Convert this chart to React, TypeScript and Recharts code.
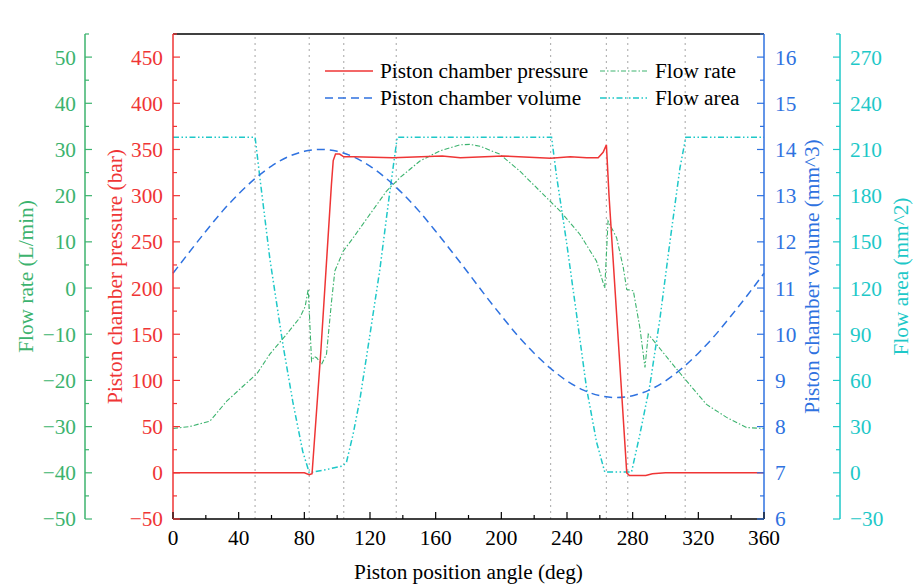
import {
  ComposedChart,
  Line,
  XAxis,
  YAxis,
  ReferenceLine,
  Legend,
} from "recharts";

const FONT = "'Liberation Serif', 'Times New Roman', serif";
const FS = 21.3;
const RED = "#ef3535";
const GREEN = "#3cb36e";
const BLUE = "#2f72e0";
const CYAN = "#1ec8c8";

// stage markers along the cycle
const markerDeg = [50, 83, 104, 136, 230, 264, 277, 312];
const markerName = ["a", "b", "c", "d", "e", "f", "g", "h"];

// piston chamber pressure (bar)
const pressureDeg = [0, 80, 83, 84.7, 90, 96.5, 97.6, 99, 101.5, 104, 110, 134, 164, 175, 201, 230, 242, 252, 259, 262, 264, 265.6, 276.4, 278, 288, 292, 300, 360];
const pressureBar = [0, 0, -2, -1, 130, 312, 338, 345, 345, 342, 342, 341, 343, 341, 343, 340.5, 342, 341, 341, 347, 355, 300, 0, -3, -3, -1, 0, 0];

// flow rate (L/min)
const flowDeg = [0, 10, 22.5, 32.7, 42.8, 51, 59, 69.2, 77.3, 80.5, 82.4, 84.4, 86, 87.5, 90.5, 93.5, 96.6, 98.6, 103.7, 109.8, 120, 130.1, 138.2, 150.4, 162.6, 174.8, 181, 187, 199, 211.3, 223.5, 235.7, 247.9, 258, 263, 265, 270.2, 274.3, 276.4, 280.4, 284.4, 287.5, 289.5, 294.6, 302.7, 312.8, 325, 337.2, 349.4, 360];
const flowRate = [-30.4, -30, -28.8, -24.5, -21.2, -18.6, -14.3, -10, -6.4, -4, -0.2, -15.8, -14.8, -15.1, -16.5, -14.3, -2.8, 3.7, 8, 10.9, 16, 21, 23.9, 27.5, 29.7, 31, 31.1, 30.7, 29, 25.3, 21, 16.7, 11.6, 5.8, 0, 14.5, 10.9, 4.4, -0.3, -0.6, -8.6, -17.2, -10, -12.2, -15.8, -20.1, -25.2, -28, -30.2, -30.4];

// piston chamber volume (mm^3)
const volumeDeg = [0, 10, 20, 30, 40, 50, 60, 70, 80, 90, 100, 110, 120, 130, 140, 150, 160, 170, 180, 190, 200, 210, 220, 230, 240, 250, 260, 270, 280, 290, 300, 310, 320, 330, 340, 350, 360];
const volume = [11.32, 11.78, 12.23, 12.66, 13.04, 13.37, 13.64, 13.84, 13.96, 14.0, 13.96, 13.84, 13.64, 13.37, 13.04, 12.66, 12.23, 11.78, 11.32, 10.85, 10.4, 9.97, 9.59, 9.26, 8.99, 8.79, 8.67, 8.63, 8.67, 8.79, 8.99, 9.26, 9.59, 9.97, 10.4, 10.85, 11.32];

// flow area (mm^2)
const areaDeg = [0, 50, 53, 59, 67, 73, 79, 83, 93, 103.5, 105.7, 109.7, 113.9, 120, 126, 132, 136.6, 230.6, 233.6, 239.7, 245.8, 251.9, 258, 263, 279.3, 284.4, 290.5, 296.6, 302.7, 308.8, 312.4, 360];
const flowArea = [218, 218, 191, 139, 83, 46, 14, 0, 2, 4.5, 7, 25, 48, 90, 132, 182, 218, 218, 193, 150, 103, 55, 20, 0.5, 0.5, 25, 57, 100, 150, 198, 218, 218];

const pressureTicks = Array.from({ length: 22 }, (_, i) => -50 + i * 25);
const flowTicks = Array.from({ length: 22 }, (_, i) => -50 + i * 5);
const volumeTicks = Array.from({ length: 22 }, (_, i) => 6 + i * 0.5);
const areaTicks = Array.from({ length: 22 }, (_, i) => -30 + i * 15);
const angleTicks = Array.from({ length: 19 }, (_, i) => i * 20);

const zip = (xs: number[], ys: number[]) => xs.map((x, i) => ({ x, y: ys[i] }));

const fmt = (v: number) => String(Math.round(v * 100) / 100).replace("-", "\u2212");

function yTick(side: "left" | "right", color: string, step: number, gap: number) {
  return (props: any) => {
    const { x, y, payload } = props;
    const v = payload.value;
    const major = Math.abs(v / step - Math.round(v / step)) < 1e-6;
    const dir = side === "left" ? 1 : -1;
    return (
      <g>
        <line x1={x} x2={x + dir * (major ? 7 : 4)} y1={y} y2={y} stroke={color} strokeWidth={1.2} />
        {major && (
          <text
            x={x - dir * gap}
            y={y}
            dy="0.35em"
            textAnchor={side === "left" ? "end" : "start"}
            fill={color}
            fontSize={FS}
            fontFamily={FONT}
          >
            {fmt(v)}
          </text>
        )}
      </g>
    );
  };
}

function xTick(props: any) {
  const { x, y, payload } = props;
  const v = payload.value;
  const major = v % 40 === 0;
  return (
    <g>
      <line x1={x} x2={x} y1={y} y2={y - (major ? 7 : 4)} stroke="#000" strokeWidth={1.2} />
      {major && (
        <text x={x} y={y + 26} textAnchor="middle" fill="#000" fontSize={FS} fontFamily={FONT}>
          {v}
        </text>
      )}
    </g>
  );
}

function topTick(props: any) {
  const { x, y, payload } = props;
  const i = markerDeg.indexOf(payload.value);
  return (
    <g>
      <line x1={x} x2={x} y1={y} y2={y + 7} stroke="#000" strokeWidth={1.2} />
      <text x={x} y={y - 9} textAnchor="middle" fill="#000" fontSize={FS} fontFamily={FONT}>
        {markerName[i]}
      </text>
    </g>
  );
}

const yTitle = (text: string, color: string, dx: number) => (props: any) => {
  const { viewBox } = props;
  const cx = viewBox.x + dx;
  const cy = viewBox.y + viewBox.height / 2;
  return (
    <text
      x={cx}
      y={cy}
      transform={`rotate(-90 ${cx} ${cy})`}
      textAnchor="middle"
      dominantBaseline="central"
      fill={color}
      fontSize={FS}
      fontFamily={FONT}
    >
      {text}
    </text>
  );
};

const xTitle = (props: any) => {
  const { viewBox } = props;
  return (
    <text
      x={viewBox.x + viewBox.width / 2}
      y={viewBox.y + 60}
      textAnchor="middle"
      fill="#000"
      fontSize={FS}
      fontFamily={FONT}
    >
      Piston position angle (deg)
    </text>
  );
};

const legendItems = [
  { name: "Piston chamber pressure", color: RED, dash: undefined, w: 1.5 },
  { name: "Flow rate", color: GREEN, dash: "5 2 1.5 2", w: 1 },
  { name: "Piston chamber volume", color: BLUE, dash: "8 5", w: 1.5 },
  { name: "Flow area", color: CYAN, dash: "6 2.5 1.5 2.5 1.5 2.5", w: 1.5 },
];

function renderLegend() {
  return (
    <div
      style={{
        display: "grid",
        gridTemplateColumns: "275px 160px",
        rowGap: 3,
        fontFamily: FONT,
        fontSize: FS,
        color: "#000",
      }}
    >
      {legendItems.map((it) => (
        <div key={it.name} style={{ display: "flex", alignItems: "center", height: 24 }}>
          <svg width={48} height={10} style={{ marginRight: 7 }}>
            <line x1={0} x2={48} y1={5} y2={5} stroke={it.color} strokeWidth={it.w} strokeDasharray={it.dash} />
          </svg>
          <span>{it.name}</span>
        </div>
      ))}
    </div>
  );
}

export default function App() {
  return (
    <div style={{ position: "absolute", left: 0, top: 0, background: "#fff" }}>
      <ComposedChart width={914} height={585} margin={{ top: 0, right: 0, bottom: 0, left: 0 }}>
        <XAxis
          xAxisId="x"
          type="number"
          dataKey="x"
          domain={[0, 360]}
          ticks={angleTicks}
          interval={0}
          height={66}
          tickSize={0}
          tickMargin={0}
          tickLine={false}
          tick={xTick}
          axisLine={{ stroke: "#000", strokeWidth: 1.5 }}
          label={xTitle}
        />
        <XAxis
          xAxisId="top"
          orientation="top"
          type="number"
          dataKey="x"
          domain={[0, 360]}
          ticks={markerDeg}
          interval={0}
          height={34}
          tickSize={0}
          tickMargin={0}
          tickLine={false}
          tick={topTick}
          axisLine={{ stroke: "#000", strokeWidth: 1.5 }}
        />
        {/* axes sit outward in id order: L1 next to the plot, L2 outside it */}
        <YAxis
          yAxisId="L1"
          orientation="left"
          type="number"
          domain={[-50, 475]}
          ticks={pressureTicks}
          interval={0}
          width={88}
          tickSize={0}
          tickMargin={0}
          tickLine={false}
          tick={yTick("left", RED, 50, 10)}
          axisLine={{ stroke: RED, strokeWidth: 1.5 }}
          label={yTitle("Piston chamber pressure (bar)", RED, 30)}
        />
        <YAxis
          yAxisId="L2"
          orientation="left"
          type="number"
          domain={[-50, 55]}
          ticks={flowTicks}
          interval={0}
          width={85}
          tickSize={0}
          tickMargin={0}
          tickLine={false}
          tick={yTick("left", GREEN, 10, 9)}
          axisLine={{ stroke: GREEN, strokeWidth: 1.5 }}
          label={yTitle("Flow rate (L/min)", GREEN, 26)}
        />
        <YAxis
          yAxisId="R1"
          orientation="right"
          type="number"
          domain={[6, 16.5]}
          ticks={volumeTicks}
          interval={0}
          width={76}
          tickSize={0}
          tickMargin={0}
          tickLine={false}
          tick={yTick("right", BLUE, 1, 11)}
          axisLine={{ stroke: BLUE, strokeWidth: 1.5 }}
          label={yTitle("Piston chamber volume (mm^3)", BLUE, 48)}
        />
        <YAxis
          yAxisId="R2"
          orientation="right"
          type="number"
          domain={[-30, 285]}
          ticks={areaTicks}
          interval={0}
          width={74}
          tickSize={0}
          tickMargin={0}
          tickLine={false}
          tick={yTick("right", CYAN, 30, 10)}
          axisLine={{ stroke: CYAN, strokeWidth: 1.5 }}
          label={yTitle("Flow area (mm^2)", CYAN, 61)}
        />
        {markerDeg.map((d) => (
          <ReferenceLine key={d} x={d} xAxisId="x" yAxisId="L1" stroke="#b5b5b5" strokeDasharray="2 4" strokeWidth={1.2} />
        ))}
        <Legend
          layout="horizontal"
          verticalAlign="middle"
          align="center"
          content={renderLegend}
          wrapperStyle={{ position: "absolute", left: 325, top: 59, width: 440 }}
        />
        <Line
          xAxisId="x"
          yAxisId="R2"
          data={zip(areaDeg, flowArea)}
          dataKey="y"
          name="Flow area"
          type="linear"
          stroke={CYAN}
          strokeWidth={1.5}
          strokeDasharray="6 2.5 1.5 2.5 1.5 2.5"
          dot={false}
          isAnimationActive={false}
        />
        <Line
          xAxisId="x"
          yAxisId="R1"
          data={zip(volumeDeg, volume)}
          dataKey="y"
          name="Piston chamber volume"
          type="monotone"
          stroke={BLUE}
          strokeWidth={1.5}
          strokeDasharray="8 5"
          dot={false}
          isAnimationActive={false}
        />
        <Line
          xAxisId="x"
          yAxisId="L2"
          data={zip(flowDeg, flowRate)}
          dataKey="y"
          name="Flow rate"
          type="linear"
          stroke={GREEN}
          strokeWidth={1.1}
          strokeDasharray="5 2 1.5 2"
          dot={false}
          isAnimationActive={false}
        />
        <Line
          xAxisId="x"
          yAxisId="L1"
          data={zip(pressureDeg, pressureBar)}
          dataKey="y"
          name="Piston chamber pressure"
          type="linear"
          stroke={RED}
          strokeWidth={1.5}
          dot={false}
          isAnimationActive={false}
        />
      </ComposedChart>
    </div>
  );
}
